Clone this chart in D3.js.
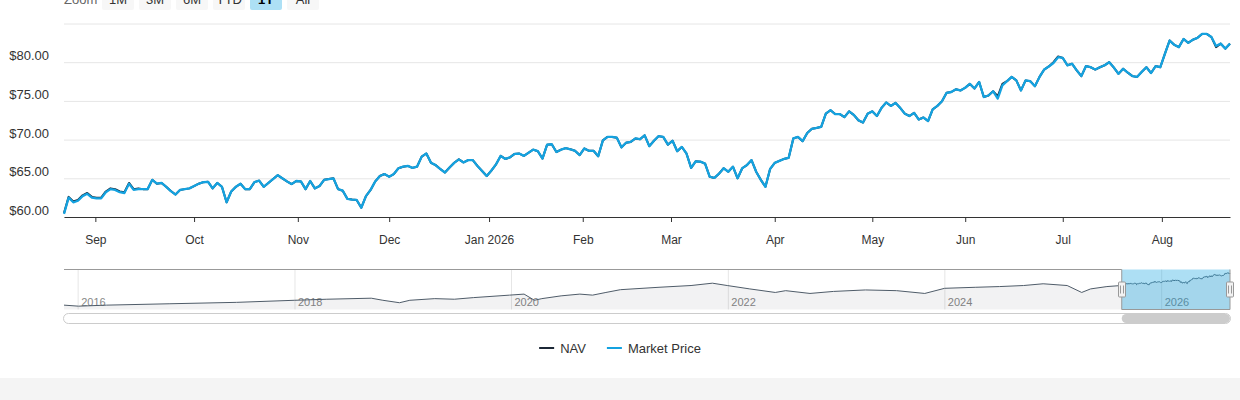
<!DOCTYPE html>
<html>
<head>
<meta charset="utf-8">
<script src="https://cdn.jsdelivr.net/npm/d3@7"></script>
<style>
  body { margin: 0; background: #fff; }
  svg { display: block; font-family: "Liberation Sans", Arial, Helvetica, sans-serif; }
</style>
</head>
<body>
<svg id="chart" width="1240" height="400"></svg>
<script>
// 1Y window of trading days (ordinal axis, weekends + market holidays skipped)
var startDay = "2025-08-21";
var endDay = "2026-08-21";
var holidays = ["2025-09-01", "2025-11-27", "2025-12-25", "2026-01-01", "2026-01-19",
  "2026-02-16", "2026-04-03", "2026-05-25", "2026-06-19", "2026-07-03"];

// daily closes
var marketPrice = [
  60.4, 62.5, 61.9, 62.1, 62.7, 63.0, 62.5, 62.4, 62.4, 63.2,
  63.6, 63.5, 63.2, 63.1, 64.3, 63.5, 63.6, 63.6, 63.6, 64.8,
  64.3, 64.4, 63.9, 63.35, 62.9, 63.5, 63.6, 63.7, 64.0, 64.3,
  64.5, 64.55, 63.7, 64.4, 63.9, 61.9, 63.3, 63.9, 64.3, 63.6,
  63.6, 64.5, 64.7, 63.9, 64.4, 64.9, 65.4, 65.0, 64.6, 64.25,
  64.65, 64.6, 63.6, 64.65, 63.7, 64.0, 64.8, 64.9, 65.0, 63.6,
  63.4, 62.35, 62.25, 62.2, 61.2, 62.7, 63.5, 64.6, 65.3, 65.55,
  65.2, 65.55, 66.3, 66.5, 66.6, 66.35, 66.5, 67.8, 68.2, 67.0,
  66.7, 66.2, 65.75, 66.4, 67.0, 67.45, 67.05, 67.35, 67.35, 66.6,
  65.95, 65.3, 66.0, 66.8, 67.9, 67.5, 67.7, 68.15, 68.2, 67.9,
  68.3, 68.7, 68.5, 67.55, 69.35, 69.4, 68.4, 68.7, 68.9, 68.75,
  68.55, 68.0, 68.85, 68.55, 68.55, 67.85, 69.9, 70.35, 70.35, 70.25,
  69.0, 69.6, 69.7, 70.15, 70.05, 70.55, 69.15, 69.85, 70.45, 70.35,
  69.35, 69.85, 68.5, 69.05, 68.2, 66.35, 67.2, 67.15, 66.9, 65.2,
  65.05, 65.6, 66.3, 65.85, 66.5, 65.0, 66.3, 66.7, 67.35, 65.85,
  64.8, 63.9, 66.2, 67.0, 67.25, 67.5, 67.65, 70.15, 70.35, 69.8,
  70.85, 71.4, 71.5, 71.65, 73.35, 73.8, 73.3, 73.3, 72.9, 73.65,
  73.2, 72.5, 72.2, 73.35, 73.65, 73.05, 74.1, 74.8, 74.35, 74.75,
  74.1, 73.35, 73.05, 73.45, 72.6, 72.85, 72.4, 73.9, 74.35, 74.95,
  76.05, 76.15, 76.5, 76.35, 76.7, 77.2, 76.6, 77.45, 75.5, 75.7,
  76.25, 75.3, 77.0, 77.55, 78.1, 77.65, 76.35, 77.65, 77.55, 76.9,
  78.1, 79.05, 79.45, 79.9, 80.65, 80.55, 79.6, 79.8, 78.95, 78.2,
  79.5, 79.35, 79.05, 79.35, 79.6, 80.0, 79.3, 78.5, 79.15, 78.65,
  78.2, 78.1, 78.75, 79.35, 78.6, 79.5, 79.35, 81.1, 82.8, 82.25,
  81.95, 83.0, 82.5, 82.9, 83.15, 83.65, 83.65, 83.25, 82.1, 82.4,
  81.75, 82.4
];
var navPrice = [
  60.5, 62.6, 62.0, 62.2, 62.8, 63.1, 62.6, 62.5, 62.5, 63.3,
  63.7, 63.6, 63.3, 63.2, 64.4, 63.6, 63.7, 63.6, 63.6, 64.8,
  64.3, 64.4, 63.9, 63.35, 62.9, 63.5, 63.6, 63.7, 64.0, 64.3,
  64.5, 64.55, 63.7, 64.4, 63.9, 61.9, 63.3, 63.9, 64.3, 63.6,
  63.6, 64.5, 64.7, 63.9, 64.4, 64.9, 65.4, 65.0, 64.6, 64.25,
  64.65, 64.6, 63.6, 64.65, 63.7, 64.0, 64.8, 64.9, 65.0, 63.6,
  63.4, 62.35, 62.25, 62.2, 61.2, 62.7, 63.5, 64.6, 65.3, 65.55,
  65.2, 65.55, 66.3, 66.5, 66.6, 66.35, 66.5, 67.8, 68.2, 67.0,
  66.7, 66.2, 65.75, 66.4, 67.0, 67.45, 67.05, 67.35, 67.35, 66.6,
  65.95, 65.3, 66.0, 66.8, 67.9, 67.5, 67.7, 68.15, 68.2, 67.9,
  68.3, 68.7, 68.5, 67.55, 69.35, 69.4, 68.4, 68.7, 68.9, 68.75,
  68.55, 68.0, 68.85, 68.55, 68.55, 67.85, 69.9, 70.35, 70.35, 70.25,
  69.0, 69.6, 69.7, 70.15, 70.05, 70.55, 69.15, 69.85, 70.45, 70.35,
  69.35, 69.85, 68.5, 69.05, 68.2, 66.35, 67.2, 67.15, 66.9, 65.2,
  65.05, 65.6, 66.3, 65.85, 66.5, 65.0, 66.3, 66.7, 67.35, 65.85,
  64.8, 63.9, 66.2, 67.0, 67.25, 67.5, 67.65, 70.15, 70.35, 69.8,
  70.85, 71.4, 71.5, 71.65, 73.35, 73.8, 73.3, 73.3, 72.9, 73.65,
  73.2, 72.5, 72.2, 73.35, 73.65, 73.05, 74.1, 74.8, 74.35, 74.75,
  74.1, 73.35, 73.05, 73.45, 72.6, 72.85, 72.4, 73.9, 74.35, 74.95,
  76.05, 76.15, 76.5, 76.35, 76.7, 77.2, 76.6, 77.45, 75.5, 75.7,
  76.25, 75.6, 77.2, 77.55, 78.1, 77.65, 76.35, 77.65, 77.55, 76.9,
  78.1, 79.05, 79.45, 80.0, 80.75, 80.55, 79.6, 79.8, 78.95, 78.2,
  79.5, 79.35, 79.05, 79.35, 79.6, 80.0, 79.3, 78.5, 79.15, 78.65,
  78.2, 78.1, 78.75, 79.35, 78.6, 79.5, 79.35, 81.1, 82.8, 82.25,
  81.95, 83.0, 82.5, 82.9, 83.15, 83.65, 83.65, 83.25, 81.95, 82.4,
  81.75, 82.4
];

// longer NAV history shown only in the navigator
var historyDates = ["2015-11-16", "2016-01-04", "2016-04-08", "2016-11-07", "2017-06-20",
  "2018-01-02", "2018-04-20", "2018-09-17", "2018-10-26", "2018-12-21", "2019-01-25",
  "2019-04-19", "2019-06-24", "2019-08-28", "2019-12-27", "2020-02-14", "2020-03-20",
  "2020-04-14", "2020-06-18", "2020-08-20", "2020-10-02", "2020-11-16", "2021-01-04",
  "2021-05-14", "2021-08-30", "2021-11-10", "2021-12-30", "2022-03-16", "2022-06-10",
  "2022-07-15", "2022-10-05", "2022-12-23", "2023-04-10", "2023-07-24", "2023-10-27",
  "2024-01-02", "2024-04-16", "2024-07-05", "2024-09-24", "2024-11-29", "2025-02-18",
  "2025-04-08", "2025-05-08", "2025-07-02"];
var historyNav = [24.5, 22.6, 24.5, 27.0, 29.6,
  33.4, 35.3, 37.2, 33.4, 28.9, 33.4,
  36.4, 35.3, 38.3, 42.8, 44.7, 33.4,
  36.4, 41.5, 44.7, 42.8, 47.7, 52.8,
  57.2, 60.4, 64.7, 60.4, 54.2, 47.7,
  51.0, 45.9, 49.6, 52.3, 51.0, 45.9,
  55.3, 57.2, 58.5, 60.4, 63.6, 60.4,
  47.7, 54.2, 58.5];

var yTicks = [60, 65, 70, 75, 80, 85];
var rangeButtons = ["1M", "3M", "6M", "YTD", "1Y", "All"];
var selectedButton = "1Y";
var seriesNames = ["NAV", "Market Price"];
var seriesColors = ["#1c2836", "#14a2e0"];

var parseDay = d3.timeParse("%Y-%m-%d");
var fmtDay = d3.timeFormat("%Y-%m-%d");

// trading days
var holidaySet = new Set(holidays);
var days = d3.timeDay
  .range(parseDay(startDay), d3.timeDay.offset(parseDay(endDay), 1))
  .filter(function (d) {
    return d.getDay() !== 0 && d.getDay() !== 6 && !holidaySet.has(fmtDay(d));
  });
var n = days.length;

var plotLeft = 64, plotRight = 1230, plotTop = 23.5, plotBottom = 217;
var svg = d3.select("#chart");

// page background strip below the chart
svg.append("rect").attr("x", 0).attr("y", 378).attr("width", 1240).attr("height", 22).attr("fill", "#f4f4f4");

// range selector (mostly scrolled off the top, as in the page)
var rs = svg.append("g");
rs.append("text").attr("x", 64).attr("y", 4).attr("font-size", 13).attr("fill", "#666").text("Zoom");
rangeButtons.forEach(function (b, i) {
  var bx = 102 + i * 37;
  var sel = b === selectedButton;
  rs.append("rect").attr("x", bx).attr("y", -14).attr("width", 32).attr("height", 24).attr("rx", 2)
    .attr("fill", sel ? "#ade0f5" : "#f7f7f7");
  rs.append("text").attr("x", bx + 16).attr("y", 4).attr("text-anchor", "middle")
    .attr("font-size", 13).attr("font-weight", sel ? "bold" : "normal")
    .attr("fill", sel ? "#000" : "#333").text(b);
});

// scales
var x = d3.scaleLinear().domain([0, n - 1]).range([plotLeft, plotRight]);
var y = d3.scaleLinear().domain([60, 85]).range([plotBottom, plotTop]);

// month ticks on the ordinal axis: interpolate between neighbouring trading days
var months = d3.timeMonth.range(d3.timeMonth.ceil(days[0]), days[n - 1]);
var tickIdx = months.map(function (m) {
  var i = d3.bisectRight(days, m) - 1;
  return i + (m - days[i]) / (days[i + 1] - days[i]);
});
var tickLabel = new Map(tickIdx.map(function (t, i) {
  var m = months[i];
  return [t, m.getMonth() === 0 ? d3.timeFormat("%b %Y")(m) : d3.timeFormat("%b")(m)];
}));

// y grid + labels
var yAxis = svg.append("g")
  .attr("transform", "translate(" + plotLeft + ",0)")
  .call(d3.axisLeft(y).tickValues(yTicks).tickSize(-(plotRight - plotLeft)).tickPadding(15)
    .tickFormat(function (d) { return "$" + d.toFixed(2); }));
yAxis.select(".domain").remove();
yAxis.selectAll(".tick line").attr("stroke", "#e6e6e6");
yAxis.selectAll(".tick text").attr("dy", null).attr("y", -2.5)
  .attr("font-size", 13).attr("fill", "#333").attr("font-family", null)
  .filter(function (d) { return d === yTicks[yTicks.length - 1]; }).remove();

// x axis
var xAxis = svg.append("g")
  .attr("transform", "translate(0," + plotBottom + ")")
  .call(d3.axisBottom(x).tickValues(tickIdx).tickSize(5).tickSizeOuter(0)
    .tickFormat(function (d) { return tickLabel.get(d); }));
xAxis.select(".domain").attr("stroke", "#333");
xAxis.selectAll(".tick line").attr("stroke", "#333");
xAxis.selectAll(".tick text").attr("dy", null).attr("y", 27)
  .attr("font-size", 12).attr("fill", "#333").attr("font-family", null);

// series
var line = d3.line()
  .x(function (d, i) { return x(i); })
  .y(function (d) { return y(d); });
[navPrice, marketPrice].forEach(function (s, k) {
  svg.append("path").datum(s)
    .attr("fill", "none")
    .attr("stroke", seriesColors[k])
    .attr("stroke-width", k === 1 ? 2.3 : 2)
    .attr("stroke-linejoin", "round")
    .attr("d", line);
});

// navigator
var navTop = 269.5, navH = 40, navBottom = navTop + navH;
var navDates = historyDates.map(parseDay).concat(days);
var navValues = historyNav.concat(navPrice);
var xn = d3.scaleTime().domain([navDates[0], navDates[navDates.length - 1]]).range([plotLeft, plotRight]);
var ext = d3.extent(navValues), pad = (ext[1] - ext[0]) * 0.1;
var yn = d3.scaleLinear().domain([ext[0] - pad, ext[1] + pad]).range([navBottom, navTop]);

var navAxis = svg.append("g")
  .attr("transform", "translate(0," + navBottom + ")")
  .call(d3.axisBottom(xn).ticks(d3.timeYear.every(2)).tickSize(-navH).tickSizeOuter(0)
    .tickFormat(d3.timeFormat("%Y")));
navAxis.select(".domain").remove();
navAxis.selectAll(".tick line").attr("stroke", "#e6e6e6");
navAxis.selectAll(".tick text").attr("dy", null).attr("y", -4).attr("x", 3)
  .attr("text-anchor", "start").attr("font-size", 11).attr("fill", "#888").attr("font-family", null);

var navPts = navDates.map(function (d, i) { return [d, navValues[i]]; });
svg.append("path").datum(navPts)
  .attr("fill", seriesColors[0]).attr("fill-opacity", 0.06)
  .attr("d", d3.area().x(function (d) { return xn(d[0]); }).y0(navBottom).y1(function (d) { return yn(d[1]); }));
svg.append("path").datum(navPts)
  .attr("fill", "none").attr("stroke", "#4f5c69").attr("stroke-width", 1)
  .attr("d", d3.line().x(function (d) { return xn(d[0]); }).y(function (d) { return yn(d[1]); }));

var zMin = xn(days[0]), zMax = xn(days[n - 1]);
svg.append("rect").attr("x", zMin).attr("y", navTop).attr("width", zMax - zMin).attr("height", navH)
  .attr("fill", "rgba(20,162,224,0.35)");
svg.append("path")
  .attr("d", "M" + plotLeft + "," + navTop + "H" + zMin + "V" + navBottom + "H" + zMax + "V" + navTop + "H" + plotRight)
  .attr("fill", "none").attr("stroke", "#999").attr("stroke-width", 1);

[zMin, zMax].forEach(function (hx) {
  var g = svg.append("g").attr("transform", "translate(" + Math.round(hx) + "," + (navTop + navH / 2) + ")");
  g.append("rect").attr("x", -3.5).attr("y", -7.5).attr("width", 7).attr("height", 15).attr("rx", 1)
    .attr("fill", "#f2f2f2").attr("stroke", "#999");
  g.append("path").attr("d", "M-1.5,-4V4M1.5,-4V4").attr("stroke", "#999");
});

// scrollbar
svg.append("rect").attr("x", plotLeft - 0.5).attr("y", 313.5).attr("width", plotRight - plotLeft + 1).attr("height", 10)
  .attr("rx", 5).attr("fill", "#fff").attr("stroke", "#ccc");
svg.append("rect").attr("x", zMin).attr("y", 314).attr("width", zMax - zMin).attr("height", 9)
  .attr("rx", 4.5).attr("fill", "#ccc");

// legend
var legend = svg.append("g");
var lx = 0;
seriesNames.forEach(function (name, k) {
  var g = legend.append("g").attr("transform", "translate(" + lx + ",0)");
  g.append("line").attr("x1", 0).attr("x2", 15).attr("y1", 348).attr("y2", 348)
    .attr("stroke", seriesColors[k]).attr("stroke-width", 2);
  var t = g.append("text").attr("x", 21).attr("y", 352.5).attr("font-size", 13).attr("fill", "#333").text(name);
  lx += 21 + t.node().getComputedTextLength() + 21;
});
legend.attr("transform", "translate(" + (620 - (lx - 21) / 2) + ",0)");
</script>
</body>
</html>
